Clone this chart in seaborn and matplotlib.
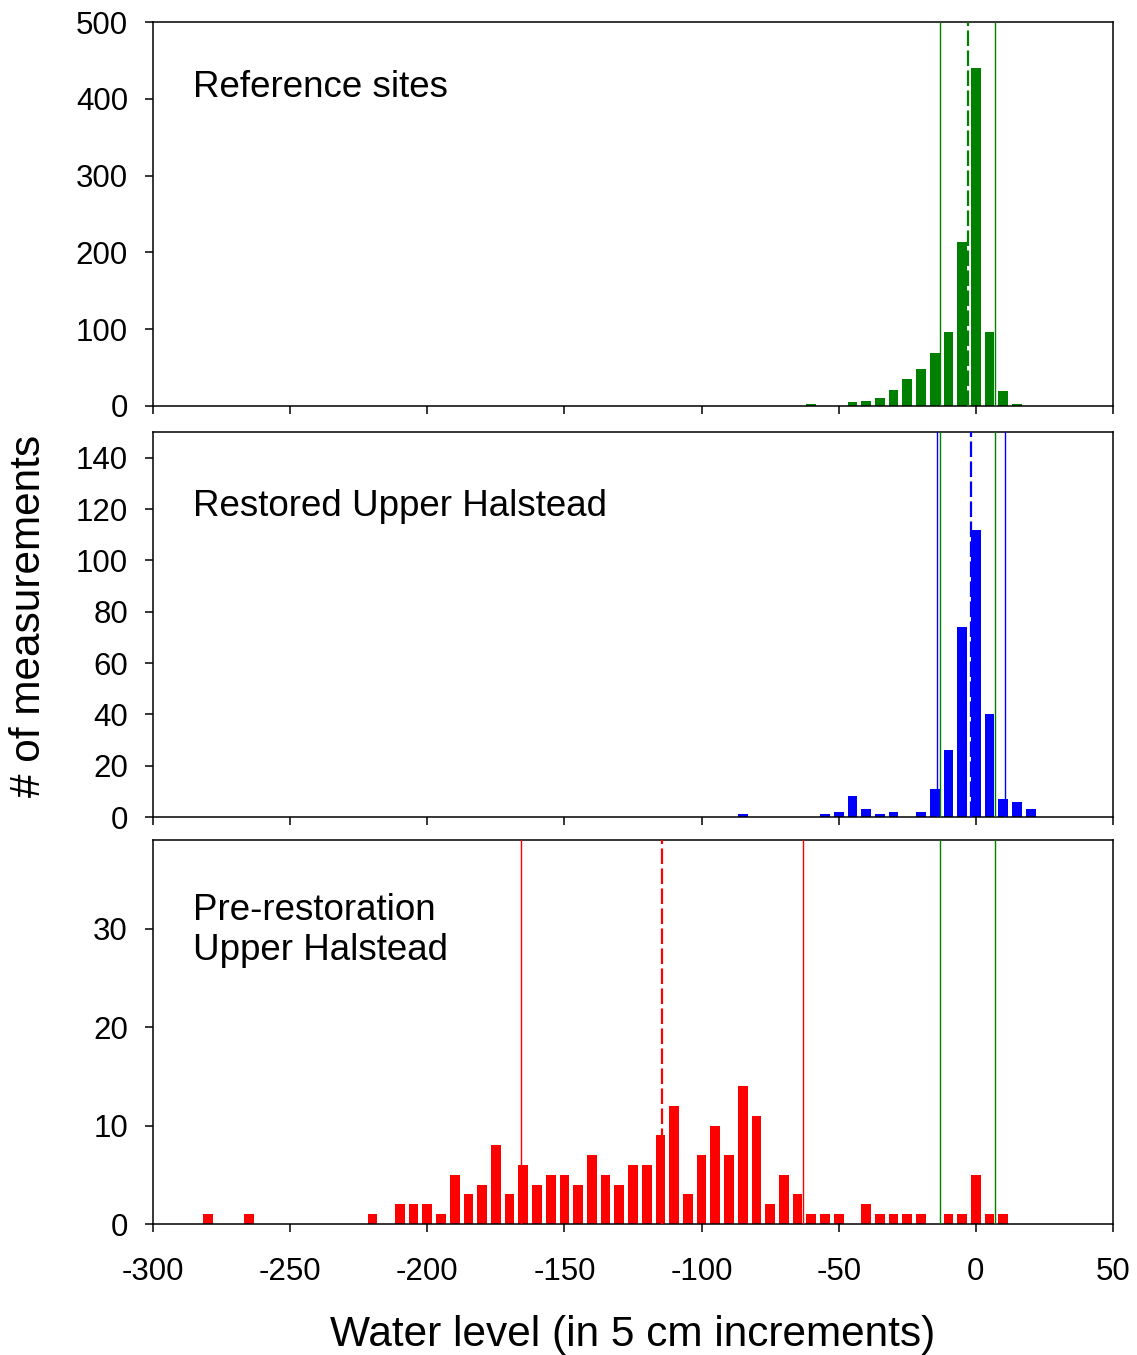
import matplotlib
matplotlib.use("Agg")
import matplotlib.pyplot as plt
import seaborn as sns
import pandas as pd

# water level bins (cm) and counts per panel
ref_levels = [-60, -45, -40, -35, -30, -25, -20, -15, -10, -5, 0, 5, 10, 15]
ref_counts = [2, 5, 7, 10, 21, 35, 48, 69, 97, 214, 440, 97, 19, 3]

rest_levels = [-85, -55, -50, -45, -40, -35, -30, -20, -15, -10, -5, 0, 5, 10, 15, 20]
rest_counts = [1, 1, 2, 8, 3, 1, 2, 2, 11, 26, 74, 112, 40, 7, 6, 3]

pre_levels = [-280, -265, -220, -210, -205, -200, -195, -190, -185, -180, -175, -170,
              -165, -160, -155, -150, -145, -140, -135, -130, -125, -120, -115, -110,
              -105, -100, -95, -90, -85, -80, -75, -70, -65, -60, -55, -50, -40, -35,
              -30, -25, -20, -10, -5, 0, 5, 10]
pre_counts = [1, 1, 1, 2, 2, 2, 1, 5, 3, 4, 8, 3, 6, 4, 5, 5, 4, 7, 5, 4, 6, 6, 9, 12,
              3, 7, 10, 7, 14, 11, 2, 5, 3, 1, 1, 1, 2, 1, 1, 1, 1, 1, 1, 5, 1, 1]

# mean and sd of each group (vertical lines)
ref_mean, ref_sd = -3.0, 10.0
rest_mean, rest_sd = -1.8, 12.4
pre_mean, pre_sd = -114.4, 51.4

panel_labels = ["Reference sites", "Restored Upper Halstead", "Pre-restoration\nUpper Halstead"]
x_ticks = [-300, -250, -200, -150, -100, -50, 0, 50]

sns.set_theme(style="ticks")
plt.rcParams["font.family"] = ["Liberation Sans", "DejaVu Sans"]
plt.rcParams["text.color"] = "black"
plt.rcParams["xtick.labelcolor"] = "black"
plt.rcParams["ytick.labelcolor"] = "black"

W, H = 1137, 1355
fig = plt.figure(figsize=(W / 100, H / 100), dpi=100)

def px_axes(top, bottom):
    return fig.add_axes([153 / W, 1 - bottom / H, 960 / W, (bottom - top) / H])

ax1 = px_axes(22, 406)
ax2 = px_axes(432, 817)
ax3 = px_axes(840, 1224)

panels = [
    (ax1, ref_levels, ref_counts, "green", ref_mean, ref_sd, (0, 500), range(0, 501, 100), 0.875),
    (ax2, rest_levels, rest_counts, "blue", rest_mean, rest_sd, (0, 150), range(0, 141, 20), 0.852),
    (ax3, pre_levels, pre_counts, "red", pre_mean, pre_sd, (0, 39), range(0, 31, 10), 0.862),
]

for i, (ax, lv, ct, col, m, sd, ylim, yt, ty) in enumerate(panels):
    df = pd.DataFrame({"level": lv, "count": ct})
    sns.barplot(data=df, x="level", y="count", native_scale=True, color=col,
                saturation=1, width=0.7, errorbar=None, linewidth=0, ax=ax)
    # group mean +- sd
    ax.axvline(m - sd, color=col, lw=1.0, zorder=3)
    ax.axvline(m + sd, color=col, lw=1.0, zorder=3)
    ax.axvline(m, color=col, lw=1.6, ls=(0, (7, 2)), zorder=3)
    if i > 0:
        # reference range for comparison
        ax.axvline(ref_mean - ref_sd, color="green", lw=1.0, zorder=3)
        ax.axvline(ref_mean + ref_sd, color="green", lw=1.0, zorder=3)
    ax.set_xlim(-300, 50)
    ax.set_ylim(*ylim)
    ax.set_yticks(list(yt))
    ax.set_xticks(x_ticks)
    ax.set_xlabel("")
    ax.set_ylabel("")
    ax.text(0.042, ty, panel_labels[i], transform=ax.transAxes, fontsize=26.5,
            va="top", ha="left", linespacing=1.2)
    for s in ax.spines.values():
        s.set_visible(True)
        s.set_linewidth(1.1)
        s.set_color("black")
    ax.tick_params(axis="both", direction="out", length=6, width=1.1, color="black",
                   labelsize=22.5)
    ax.tick_params(axis="y", pad=12)
    ax.tick_params(axis="x", pad=18)
    if i < 2:
        ax.tick_params(axis="x", labelbottom=False)

ax3.set_xticklabels([str(t) for t in x_ticks])
fig.text(633 / W, 1 - 1335 / H, "Water level (in 5 cm increments)", fontsize=30.5,
         ha="center", va="center")
fig.text(29 / W, 1 - 616 / H, "# of measurements", fontsize=30.5, rotation=90,
         ha="center", va="center")

fig.savefig("out.png", dpi=100)
